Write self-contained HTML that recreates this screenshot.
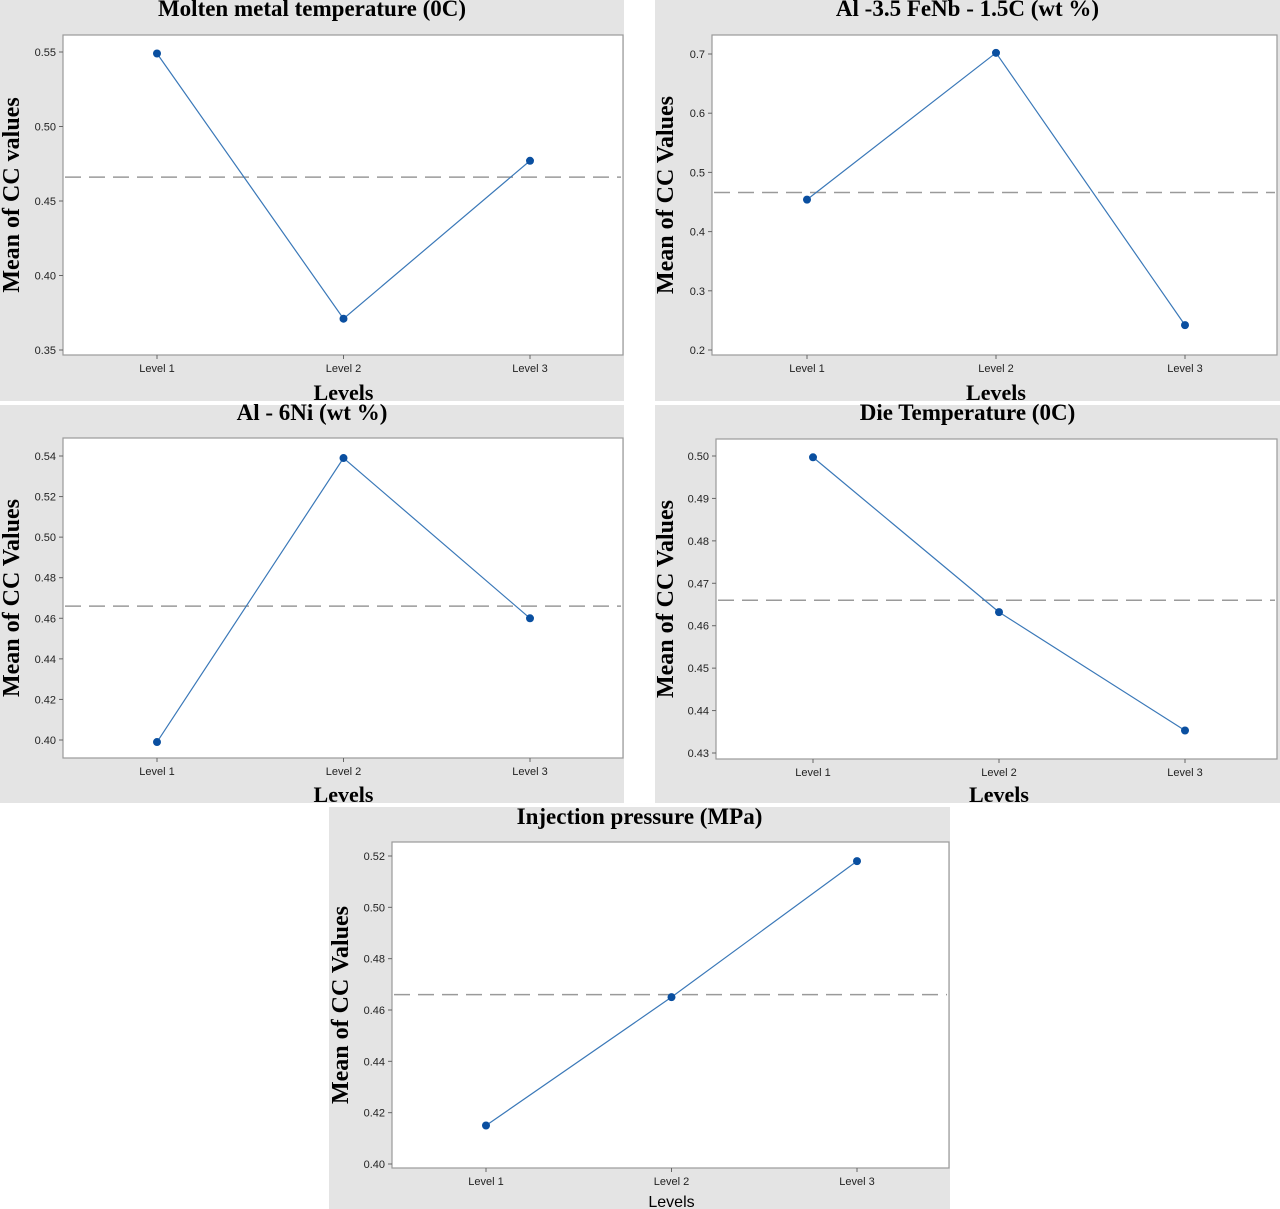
<!DOCTYPE html>
<html><head><meta charset="utf-8"><style>
body{margin:0;background:#fff;width:1280px;height:1209px;overflow:hidden}
svg{display:block}
.t{font-family:"Liberation Serif",serif;font-weight:bold;fill:#000}
.tk{font-family:"Liberation Sans",sans-serif;font-size:11px;fill:#222}
</style></head><body>
<svg id="c" width="1280" height="1209" xmlns="http://www.w3.org/2000/svg"></svg>
<script>
const categories = ["Level 1","Level 2","Level 3"];
const seriesMolten = [0.549, 0.371, 0.477];
const seriesFeNb = [0.454, 0.702, 0.242];
const seriesNi = [0.399, 0.539, 0.460];
const seriesDie = [0.4997, 0.4632, 0.4353];
const seriesInj = [0.415, 0.465, 0.518];
const grandMean = 0.466;
const ticksMolten = ["0.35","0.40","0.45","0.50","0.55"];
const ticksFeNb = ["0.2","0.3","0.4","0.5","0.6","0.7"];
const ticksNi = ["0.40","0.42","0.44","0.46","0.48","0.50","0.52","0.54"];
const ticksDie = ["0.43","0.44","0.45","0.46","0.47","0.48","0.49","0.50"];
const ticksInj = ["0.40","0.42","0.44","0.46","0.48","0.50","0.52"];
const titles = ["Molten metal  temperature (0C)","Al -3.5 FeNb - 1.5C (wt %)","Al - 6Ni (wt %)","Die Temperature (0C)","Injection pressure (MPa)"];

const panels = [
 {name:"molten",data:seriesMolten,ticks:ticksMolten,bg:[0,0,624,401],pl:[63,35,623,355],x0:157,dx:186.5,lo:0.35,yLo:350,hi:0.55,yHi:52,ylab:"Mean of CC values",yl:12,xlabSize:22},
 {name:"fenb",data:seriesFeNb,ticks:ticksFeNb,bg:[655,0,1280,401],pl:[712,35,1277,355],x0:807,dx:189,lo:0.2,yLo:350,hi:0.7,yHi:54,ylab:"Mean of CC Values",yl:666,xlabSize:22},
 {name:"ni",data:seriesNi,ticks:ticksNi,bg:[0,405,624,803],pl:[63,438,623,758],x0:157,dx:186.5,lo:0.40,yLo:740,hi:0.54,yHi:456,ylab:"Mean of CC Values",yl:12,xlabSize:22},
 {name:"die",data:seriesDie,ticks:ticksDie,bg:[655,405,1280,803],pl:[716,439,1277,759],x0:813,dx:186,lo:0.43,yLo:753,hi:0.50,yHi:456,ylab:"Mean of CC Values",yl:666,xlabSize:22},
 {name:"injection",data:seriesInj,ticks:ticksInj,bg:[329,807,950,1209],pl:[392,842,949,1168],x0:486,dx:185.5,lo:0.40,yLo:1164,hi:0.52,yHi:856,ylab:"Mean of CC Values",yl:341,xlabSize:16,xlabSans:true}
];
const NS="http://www.w3.org/2000/svg";
const svg=document.getElementById('c');
function mk(tag,attrs,parent,text){const e=document.createElementNS(NS,tag);for(const k in attrs)e.setAttribute(k,attrs[k]);if(text!==undefined)e.textContent=text;(parent||svg).appendChild(e);return e;}
panels.forEach((p,i)=>{
 const g=mk('g',{});
 
 
 const [bx0,by0,bx1,by1]=p.bg,[px0,py0,px1,py1]=p.pl;
 mk('rect',{x:bx0,y:by0,width:bx1-bx0,height:by1-by0,fill:'#e4e4e4'},g);
 const pr=mk('rect',{x:px0,y:py0,width:px1-px0,height:py1-py0,fill:'#fff',stroke:'#9a9a9a','stroke-width':1.2},g);
 
 
 const ys=v=>p.yLo+(v-p.lo)*(p.yHi-p.yLo)/(p.hi-p.lo);
 const xs=k=>p.x0+k*p.dx;
 const cx=(bx0+bx1)/2;
 const tt=mk('text',{x:cx,y:by0+(i<2?16:i<4?15:17),'text-anchor':'middle',class:'t','font-size':23},g,titles[i]);
 
 
 p.ticks.forEach(t=>{const v=parseFloat(t),y=ys(v);
  mk('line',{x1:px0-4,x2:px0,y1:y,y2:y,stroke:'#666'},g);
  const tl=mk('text',{x:px0-7,y:y+4,'text-anchor':'end',class:'tk'},g,t);
  
  
 });
 categories.forEach((c,k)=>{const x=xs(k);
  mk('line',{x1:x,x2:x,y1:py1,y2:py1+4,stroke:'#666'},g);
  const xl=mk('text',{x:x,y:py1+17,'text-anchor':'middle',class:'tk'},g,c);
  
  
 });
 const ml=mk('line',{x1:px0+2,x2:px1-2,y1:ys(grandMean),y2:ys(grandMean),stroke:'#9a9a9a','stroke-width':1.5,'stroke-dasharray':'16,8'},g);
 
 
 const pl=mk('polyline',{points:p.data.map((v,k)=>xs(k)+','+ys(v)).join(' '),fill:'none',stroke:'#3a78b8','stroke-width':1.2},g);
 
 
 p.data.forEach((v,k)=>{
  const d=mk('circle',{cx:xs(k),cy:ys(v),r:4,fill:'#0a4fa0'},g);
  
  
 });
 const yc=(py0+py1)/2;
 const yl=mk('text',{x:p.yl,y:yc,transform:`rotate(-90 ${p.yl} ${yc})`,'text-anchor':'middle','dominant-baseline':'central',class:'t','font-size':24},g,p.ylab);
 
 
 const xl=mk('text',{x:xs(1),y:p.xlabSans?by1-2:by1-1,'text-anchor':'middle',class:'t','font-size':p.xlabSize},g,'Levels');
 if(p.xlabSans){xl.setAttribute('style','font-family:"Liberation Sans",sans-serif;font-weight:normal');}
 
 
});
</script>
</body></html>
